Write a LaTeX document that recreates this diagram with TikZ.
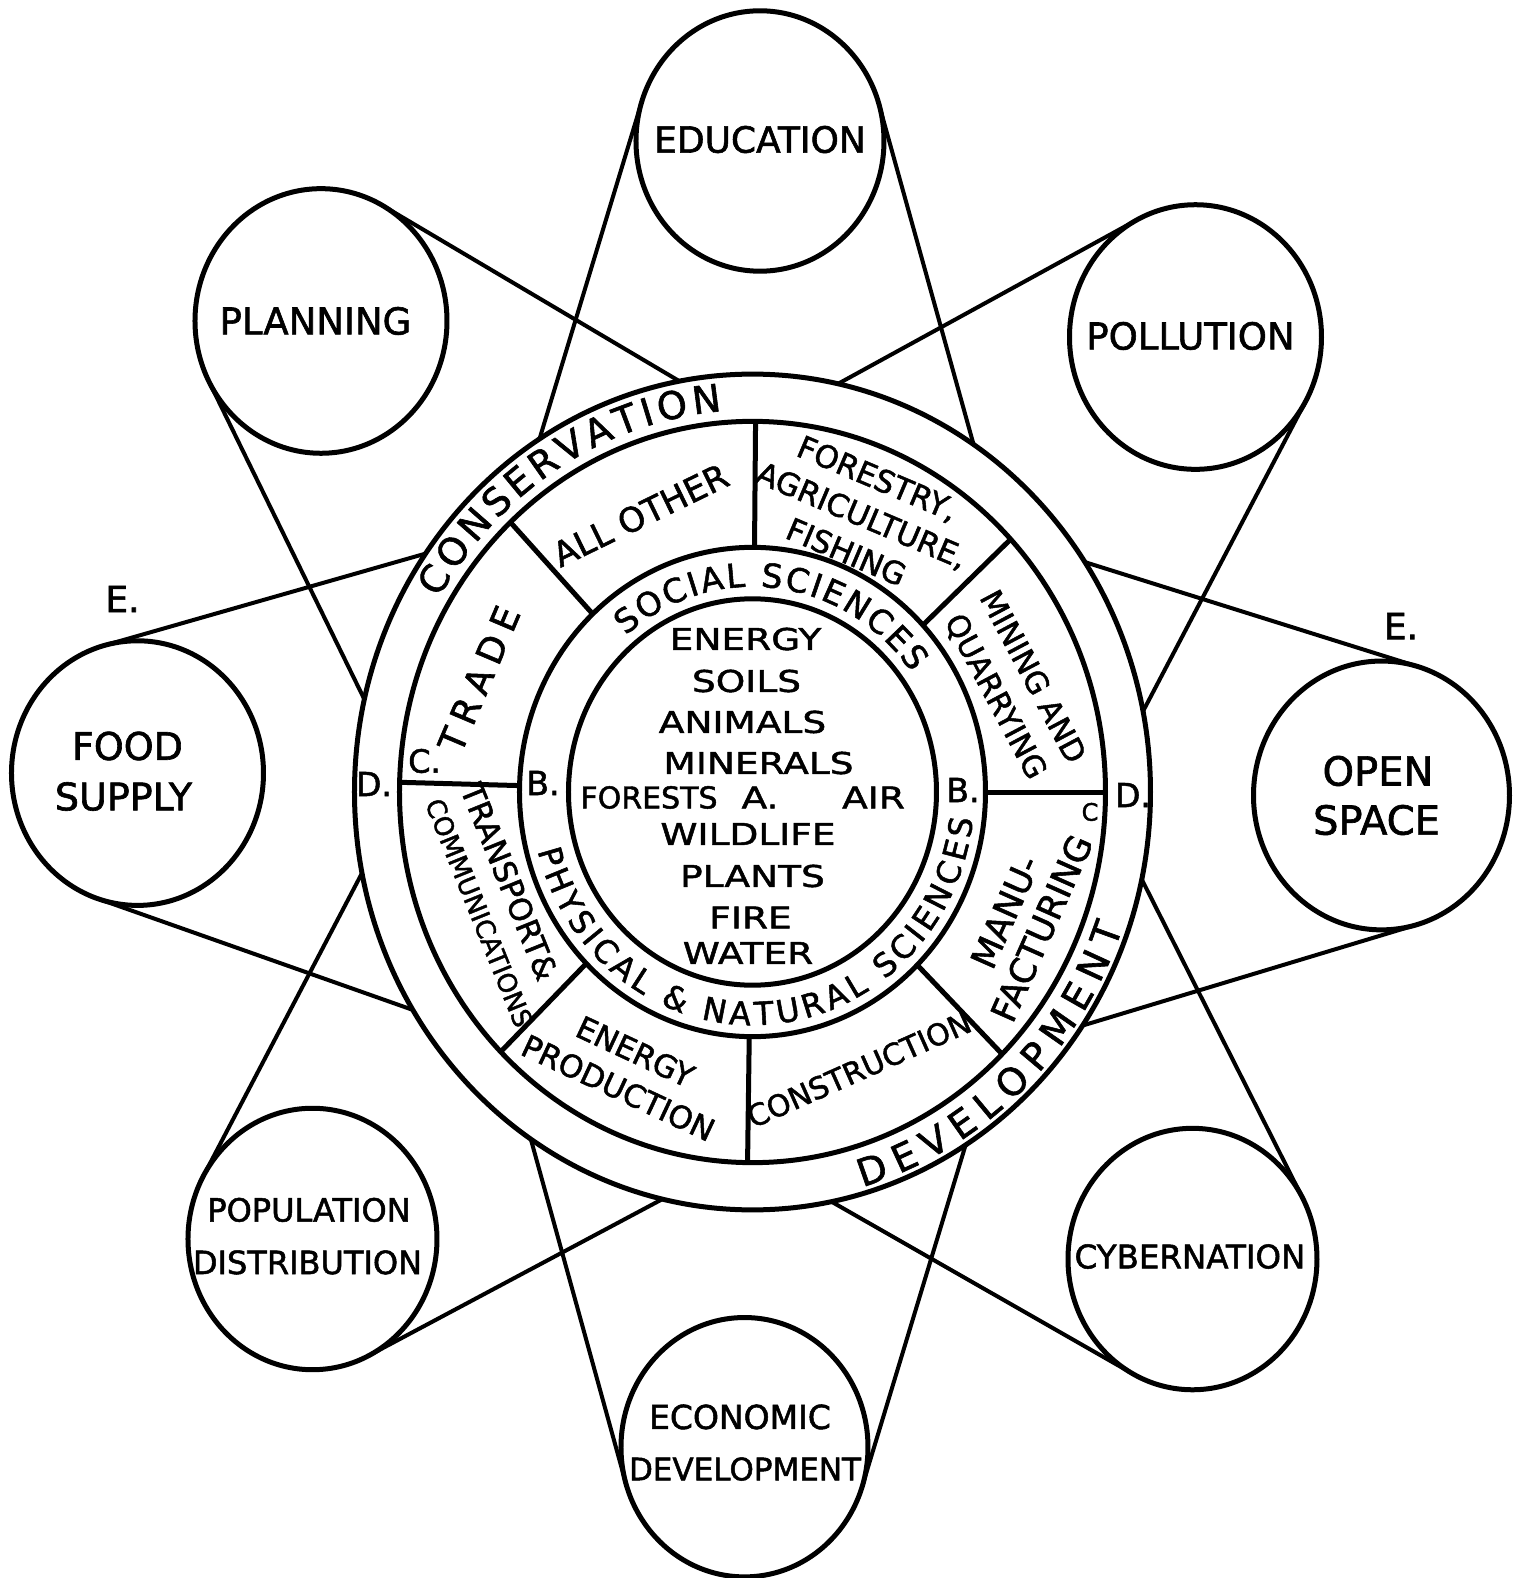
\documentclass[tikz,border=0pt]{standalone}
\usepackage{fontspec}
\setmainfont{DejaVu Sans}[FakeBold=1.6]
\newfontfamily\widefont{DejaVu Sans}[FakeStretch=1.25,FakeBold=1.6]
\usetikzlibrary{calc,decorations.text}
\newcommand\fs[2]{\fontsize{#1}{#2}\selectfont}
\def\satlist{edu/7.5/620/124, poll/443/433.3/126, open/629/-3.3/128, cyb/440/-444.8/124.5, econ/-8/-624/123.5, pop/-440/-425.7/124.5, food/-615/18/126, plan/-431.5/448.6/126}
\begin{document}
\begin{tikzpicture}[x=1pt,y=1.05pt,
  ring/.style={line width=5pt},
  belt/.style={line width=4pt, line cap=round},
  txt/.style={inner sep=0pt, outer sep=0pt, align=center}]
\useasboundingbox (-752.5,-748.57) rectangle (760.5,754.29);
\fill[white] (-752.5,-748.57) rectangle (760.5,754.29);
% belts (tangent lines), hidden inside the main disc
\foreach \nm/\cx/\cy/\r in \satlist {
  \pgfmathsetmacro\dd{100*veclen(\cx/100,\cy/100)}
  \pgfmathsetmacro\al{atan2(\cy,\cx)}
  \pgfmathsetmacro\be{acos((305-\r)/\dd)}
  \path (\cx,\cy) ++(\al+\be:\r) coordinate (\nm-a1);
  \path (\cx,\cy) ++(\al-\be:\r) coordinate (\nm-a2);
  \coordinate (\nm-b1) at (\al+\be:305);
  \coordinate (\nm-b2) at (\al-\be:305);
  \draw[belt] (\nm-a1) -- (\nm-b1);
  \draw[belt] (\nm-a2) -- (\nm-b2);
}
% main rings
\draw[ring, fill=white] (0,0) circle (398);
\draw[ring] (0,0) circle (353);
\draw[ring] (0,0) circle (233);
\draw[ring] (0,0) circle (184);
\foreach \a in {0,43,89.5,133.3,178.5,224.5,269.2,315}
  \draw[ring] (\a:233) -- (\a:353);
% satellites
\foreach \nm/\cx/\cy/\r in \satlist
  \draw[ring, fill=white] (\cx,\cy) circle (\r);
% satellite texts
\node[txt, font=\fs{36}{40}] (tEdu) at (7.5,621.4) {EDUCATION};
\node[txt, font=\fs{37}{40}] (tPlan) at (-437,448.6) {PLANNING};
\node[txt, font=\fs{37}{40}] (tPoll) at (438,434.3) {POLLUTION};
\node[txt, font=\fs{40}{44}] (tOpen) at (625.5,20) {OPEN};
\node[txt, font=\fs{40}{44}] (tSpace) at (624,-26.7) {SPACE};
\node[txt, font=\fs{38}{42}] (tFood) at (-625,43.8) {FOOD};
\node[txt, font=\fs{38}{42}] (tSupply) at (-629,-4.3) {SUPPLY};
\node[txt, font=\fs{32}{36}] (tPop) at (-443.5,-398) {POPULATION};
\node[txt, font=\fs{32}{36}] (tDist) at (-445,-448) {DISTRIBUTION};
\node[txt, font=\fs{32.5}{36}] (tCyb) at (437.5,-442.4) {CYBERNATION};
\node[txt, font=\fs{33}{36}] (tEcon) at (-12.5,-595.2) {ECONOMIC};
\node[txt, font=\fs{31}{36}] (tDev) at (-7.5,-644.8) {DEVELOPMENT};
% centre list
\begin{scope}[every node/.style={txt, font=\widefont\fs{30}{32}}]
\node (cEnergy) at (-7,145.7) {ENERGY};
\node (cSoils) at (-6,105.7) {SOILS};
\node (cAnimals) at (-10,66.7) {ANIMALS};
\node (cMinerals) at (6,27.6) {MINERALS};
\node[font=\fs{30}{32}] (cForests) at (-103.5,-5.2) {FORESTS};
\node (cA) at (7.5,-5.2) {A.};
\node (cAir) at (121,-5.2) {AIR};
\node (cWildlife) at (-4.5,-40) {WILDLIFE};
\node (cPlants) at (0,-80) {PLANTS};
\node (cFire) at (-2,-119.5) {FIRE};
\node (cWater) at (-4.5,-153.3) {WATER};
\end{scope}
% ring texts
\path[decorate, decoration={text along path, text={|\fs{38}{40}|CONSERVATION}, text align={fit to path}}]
  (149.5:364) arc[start angle=149.5, end angle=94.8, radius=364];
\path[decorate, decoration={text along path, text={|\fs{38}{40}|DEVELOPMENT}, text align={fit to path}}]
  (-73.7:392) arc[start angle=-73.7, end angle=-19.2, radius=392];
\path[decorate, decoration={text along path, text={|\fs{33}{36}|SOCIAL SCIENCES}, text align={fit to path}}]
  (130.4:195.5) arc[start angle=130.4, end angle=35.6, radius=195.5];
\path[decorate, decoration={text along path, text={|\fs{32}{36}|PHYSICAL {\&} NATURAL SCIENCES}, text align={fit to path}}]
  (194.6:222) arc[start angle=194.6, end angle=353.4, radius=222];
% sector texts
\node[txt, rotate=26, font=\fs{34}{40}] (sAll) at (-112,263.8) {ALL OTHER};
\node[txt, rotate=-23, font=\fs{31}{40}] (sFor) at (109.5,263.8) {FORESTRY,\\AGRICULTURE,\\FISHING};
\node[txt, rotate=-62, font=\fs{30.5}{42}] (sMin) at (261,100) {MINING AND\\QUARRYING};
\node[txt, rotate=66, font=\fs{35}{40}] (sMan) at (271,-122) {MANU-\\FACTURING};
\node[txt, rotate=24, font=\fs{30}{36}] (sCon) at (106.5,-264.3) {CONSTRUCTION};
\node[txt, rotate=-25, font=\fs{31}{40}] (sEne) at (-125.7,-264.5) {ENERGY\\PRODUCTION};
\node[txt, rotate=-68, align=left, font=\fs{31}{38}] (sTra) at (-254,-107.6) {TRANSPORT\&\\{\fs{26}{38}COMMUNICATIONS}};
\node[txt, rotate=67, font=\fs{36}{40}] (sTrd) at (-273.5,107.6) {T\kern8pt R\kern8pt A\kern8pt D\kern8pt E};
% letter labels
\node[txt, font=\fs{33}{36}] (lB1) at (-209.5,8.6) {B.};
\node[txt, font=\fs{33}{36}] (lB2) at (210.5,1.9) {B.};
\node[txt, font=\fs{32}{36}] (lC1) at (-328,29.5) {C.};
\node[txt, font=\fs{24}{28}] (lC2) at (337.5,-19) {C};
\node[txt, font=\fs{33}{36}] (lD1) at (-378.5,7.6) {D.};
\node[txt, font=\fs{33}{36}] (lD2) at (380.5,-2.9) {D.};
\node[txt, font=\fs{36}{40}] (lE1) at (-630,183.8) {E.};
\node[txt, font=\fs{36}{40}] (lE2) at (648.5,158) {E.};
\end{tikzpicture}
\end{document}
